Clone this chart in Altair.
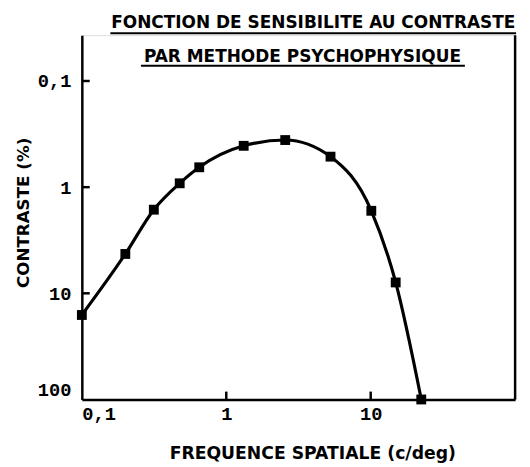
import altair as alt
import pandas as pd

# Data
freq = [0.1, 0.2, 0.315, 0.476, 0.65, 1.32, 2.56, 5.27, 10.1, 14.9, 22.4]
contrast = [16, 4.26, 1.63, 0.92, 0.65, 0.408, 0.36, 0.516, 1.67, 7.9, 100]
x_ticks = [0.1, 1, 10]
x_inner_ticks = [1, 10]
y_ticks = [0.1, 1, 10, 100]
y_inner_ticks = [0.1, 1, 10]
title_line1 = "FONCTION DE SENSIBILITE AU CONTRASTE"
title_line2 = "PAR METHODE PSYCHOPHYSIQUE"
x_title = "FREQUENCE SPATIALE (c/deg)"
y_title = "CONTRASTE (%)"

W, H = 440, 370

df = pd.DataFrame({"freq": freq, "contrast": contrast})

xscale = alt.Scale(type="log", domain=[0.1, 100], nice=False)
yscale = alt.Scale(type="log", domain=[0.037, 100], reverse=True, nice=False)

x_axis = alt.Axis(
    values=x_ticks, format="~g", labelExpr="replace(datum.label, '.', ',')",
    labelFont="Liberation Mono", labelFontWeight="bold", labelFontSize=19,
    labelColor="black", labelPadding=5, labelFlush=True,
    ticks=False, tickSize=0, grid=False,
    domainColor="black", domainWidth=2.5,
    title=x_title, titleFont="DejaVu Sans", titleFontSize=17.5, titleFontWeight="bold",
    titleColor="black", titleX=234, titleY=60, titleAlign="center",
    titleBaseline="alphabetic",
)
y_axis = alt.Axis(
    values=y_ticks, format="~g", labelExpr="replace(datum.label, '.', ',')",
    labelFont="Liberation Mono", labelFontWeight="bold", labelFontSize=19,
    labelColor="black", labelPadding=11, labelFlush=True,
    ticks=False, tickSize=0, grid=False,
    domainColor="black", domainWidth=2.5,
    title=y_title, titleFont="DejaVu Sans", titleFontSize=17, titleFontWeight="bold",
    titleColor="black", titleX=-54, titleY=180, titleAlign="center",
    titleBaseline="alphabetic", titleAngle=270,
)

line = alt.Chart(df).mark_line(color="black", strokeWidth=3.2, interpolate="monotone").encode(
    x=alt.X("freq:Q", scale=xscale, axis=x_axis),
    y=alt.Y("contrast:Q", scale=yscale, axis=y_axis),
)
pts = alt.Chart(df).mark_square(size=100, color="black", opacity=1).encode(
    x=alt.X("freq:Q", scale=xscale),
    y=alt.Y("contrast:Q", scale=yscale),
)

xt = alt.Chart(pd.DataFrame({"freq": x_inner_ticks})).mark_rule(color="black", strokeWidth=2.5).encode(
    x=alt.X("freq:Q", scale=xscale), y=alt.value(H), y2=alt.value(H - 8)
)
yt = alt.Chart(pd.DataFrame({"contrast": y_inner_ticks})).mark_rule(color="black", strokeWidth=2.5).encode(
    y=alt.Y("contrast:Q", scale=yscale), x=alt.value(0), x2=alt.value(8)
)
right_border = alt.Chart(pd.DataFrame({"a": [0]})).mark_rule(color="black", strokeWidth=2.5).encode(
    x=alt.value(W), y=alt.value(0), y2=alt.value(H)
)

t1 = alt.Chart(pd.DataFrame({"txt": [title_line1]})).mark_text(
    font="DejaVu Sans", fontWeight="bold", fontSize=17.2, align="center", baseline="alphabetic", color="black"
).encode(text="txt:N", x=alt.value(235), y=alt.value(-7))
t2 = alt.Chart(pd.DataFrame({"txt": [title_line2]})).mark_text(
    font="DejaVu Sans", fontWeight="bold", fontSize=17.2, align="center", baseline="alphabetic", color="black"
).encode(text="txt:N", x=alt.value(224), y=alt.value(27))
u1 = alt.Chart(pd.DataFrame({"a": [0]})).mark_rule(color="black", strokeWidth=2).encode(
    x=alt.value(29), x2=alt.value(441), y=alt.value(-2)
)
u2 = alt.Chart(pd.DataFrame({"a": [0]})).mark_rule(color="black", strokeWidth=2).encode(
    x=alt.value(60), x2=alt.value(389), y=alt.value(31)
)

chart = alt.layer(line, pts, xt, yt, right_border, t1, t2, u1, u2).properties(
    width=W, height=H,
    autosize=alt.AutoSizeParams(type="none"),
    padding={"left": 75, "top": 24, "right": 7, "bottom": 65},
).configure_view(stroke=None).configure(background="white")

chart.save("out.html", embed_options={"renderer": "svg", "actions": False})
